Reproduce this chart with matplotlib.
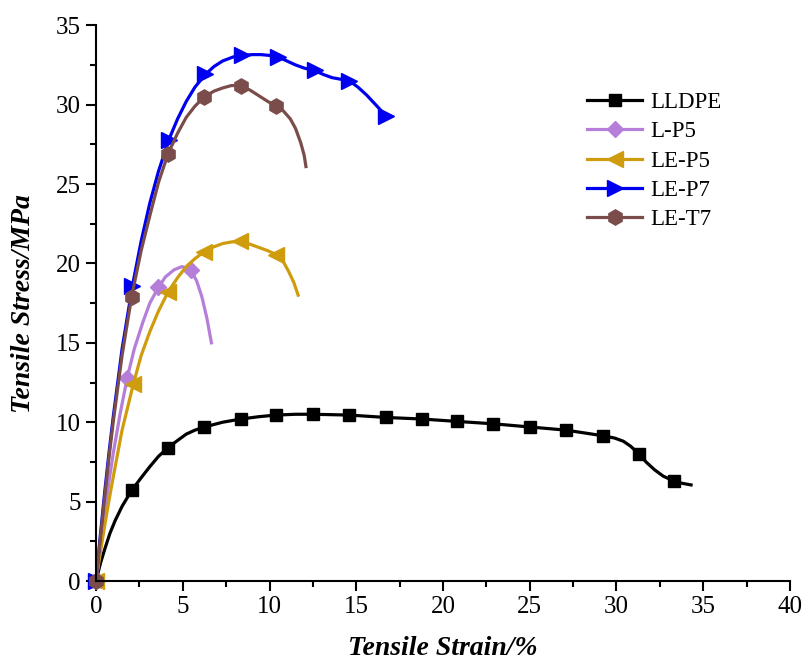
import matplotlib.pyplot as plt
from matplotlib.ticker import MultipleLocator

plt.rcParams['font.family'] = ['Liberation Serif', 'DejaVu Serif']

# (strain %, stress MPa)
lldpe_x = [0, 0.25, 0.5, 0.8, 1.1, 1.5, 2.05, 2.6, 3.1, 3.6, 4.15, 4.7, 5.2, 5.7, 6.25, 7.3,
           8.35, 9.4, 10.4, 11.5, 12.5, 14.6, 16.7, 18.8, 20.8, 22.9, 25, 27.1, 29.2, 29.9,
           30.4, 30.8, 31.3, 31.7, 32.2, 32.7, 33.3, 33.8, 34.3]
lldpe_y = [0, 1.1, 2.0, 3.0, 3.8, 4.7, 5.7, 6.5, 7.2, 7.85, 8.4, 8.85, 9.25, 9.5, 9.7, 10.0,
           10.2, 10.35, 10.45, 10.5, 10.5, 10.45, 10.3, 10.2, 10.05, 9.9, 9.7, 9.5, 9.15, 9.0,
           8.8, 8.5, 8.0, 7.5, 7.0, 6.6, 6.3, 6.15, 6.05]

lp5_x = [0, 0.25, 0.5, 0.75, 1, 1.4, 1.8, 2.2, 2.7, 3.1, 3.6, 4.0, 4.5, 4.95, 5.45, 5.8,
         6.1, 6.4, 6.65]
lp5_y = [0, 2.2, 4.3, 6.3, 8.1, 10.6, 12.8, 14.6, 16.3, 17.5, 18.5, 19.15, 19.6, 19.8, 19.6,
         18.9, 17.9, 16.5, 15.0]

lep5_x = [0, 0.25, 0.5, 0.75, 1, 1.5, 2.15, 2.6, 3.1, 3.6, 4.15, 4.7, 5.2, 5.7, 6.25, 6.8,
          7.3, 7.8, 8.3, 8.9, 9.4, 9.9, 10.4, 10.8, 11.1, 11.4, 11.65]
lep5_y = [0, 1.8, 3.5, 5.1, 6.6, 9.5, 12.4, 14.2, 15.7, 17.0, 18.2, 19.1, 19.8, 20.3, 20.75,
          21.05, 21.25, 21.35, 21.4, 21.2, 21.0, 20.8, 20.55, 20.1, 19.5, 18.8, 18.0]

lep7_x = [0, 0.25, 0.5, 0.75, 1, 1.5, 2.1, 2.6, 3.1, 3.6, 4.2, 4.7, 5.2, 5.7, 6.3, 6.8, 7.3,
          7.9, 8.4, 9, 9.5, 10, 10.5, 11, 11.5, 12, 12.6, 13.1, 13.6, 14.1, 14.6, 15.1, 15.6,
          16.2, 16.7]
lep7_y = [0, 2.9, 5.6, 8.1, 10.4, 14.6, 18.6, 21.4, 23.8, 25.8, 27.8, 29.1, 30.2, 31.1, 31.9,
          32.4, 32.75, 33.0, 33.1, 33.15, 33.15, 33.1, 33.0, 32.75, 32.5, 32.3, 32.15, 31.9,
          31.7, 31.6, 31.5, 31.1, 30.6, 29.9, 29.3]

let7_x = [0, 0.25, 0.5, 0.75, 1, 1.5, 2.05, 2.6, 3.1, 3.6, 4.15, 4.7, 5.2, 5.7, 6.25, 6.8,
          7.3, 7.8, 8.35, 8.9, 9.4, 9.9, 10.4, 10.8, 11.2, 11.5, 11.8, 12.0, 12.1]
let7_y = [0, 2.7, 5.3, 7.8, 10.1, 14.2, 17.9, 20.8, 23.0, 25.1, 26.9, 28.2, 29.2, 29.9, 30.5,
          30.85, 31.05, 31.2, 31.2, 30.9, 30.55, 30.2, 29.9, 29.6, 29.1, 28.5, 27.6, 26.8, 26.1]

fig = plt.figure(figsize=(8.05, 6.64), dpi=100)
ax = fig.add_axes([0.1193, 0.125, 0.862, 0.837])

lw = 2.3
ax.plot(lldpe_x, lldpe_y, color='black', lw=lw, marker='s', ms=9, clip_on=False,
        markevery=[0, 6, 10, 14, 16, 18, 20, 21, 22, 23, 24, 25, 26, 27, 28, 32, 36],
        label='LLDPE')
ax.plot(lp5_x, lp5_y, color='#b57ed9', lw=lw, marker='D', ms=8, clip_on=False,
        markevery=[0, 6, 10, 14], label='L-P5')
ax.plot(lep5_x, lep5_y, color='#cf9c0e', lw=lw, marker='<', ms=11, clip_on=False,
        markevery=[0, 6, 10, 14, 18, 22], label='LE-P5')
ax.plot(lep7_x, lep7_y, color='#0000f0', lw=lw, marker='>', ms=11, clip_on=False,
        markevery=[0, 6, 10, 14, 18, 22, 26, 30, 34], label='LE-P7')
ax.plot(let7_x, let7_y, color='#7a4d4b', lw=lw, marker='h', ms=11, clip_on=False,
        markevery=[0, 6, 10, 14, 18, 22], label='LE-T7')

ax.set_xlim(0, 40)
ax.set_ylim(0, 35)
ax.xaxis.set_major_locator(MultipleLocator(5))
ax.xaxis.set_minor_locator(MultipleLocator(2.5))
ax.yaxis.set_major_locator(MultipleLocator(5))
ax.yaxis.set_minor_locator(MultipleLocator(2.5))
ax.spines['top'].set_visible(False)
ax.spines['right'].set_visible(False)
for s in ['left', 'bottom']:
    ax.spines[s].set_linewidth(1.5)
ax.tick_params(which='major', direction='out', length=7, width=1.5, labelsize=18, pad=4)
ax.tick_params(which='minor', direction='out', length=4, width=1.5)

ax.set_xlabel('Tensile Strain/%', fontsize=20, fontweight='bold', fontstyle='italic',
              labelpad=13)
ax.set_ylabel('Tensile Stress/MPa', fontsize=20, fontweight='bold', fontstyle='italic',
              labelpad=14)

ax.legend(loc='upper left', bbox_to_anchor=(0.678, 0.917), frameon=False, fontsize=16.5,
          handlelength=2.4, labelspacing=0.36, handletextpad=0.35)

fig.savefig('out.png', dpi=100)
